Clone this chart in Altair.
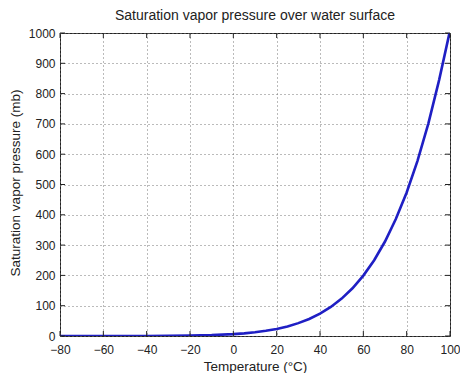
import altair as alt
import pandas as pd

temps = [-80, -70, -60, -50, -40, -30, -20, -10, 0, 5, 10, 15, 20, 25, 30, 35,
         40, 45, 50, 55, 60, 65, 70, 75, 80, 85, 90, 95, 100]
pressures = [0.0005, 0.003, 0.02, 0.06, 0.19, 0.51, 1.25, 2.86, 6.11, 8.72, 12.28,
             17.04, 23.37, 31.67, 42.43, 56.24, 73.77, 95.85, 123.4, 157.6, 199.3,
             250.1, 311.8, 385.9, 473.6, 578.0, 701.1, 845.3, 1008]
x_ticks = [-80, -60, -40, -20, 0, 20, 40, 60, 80, 100]
y_ticks = [0, 100, 200, 300, 400, 500, 600, 700, 800, 900, 1000]

W, H = 390, 303
FONT = "Liberation Sans"

df = pd.DataFrame({"T": temps, "e": pressures})
xt = pd.DataFrame({"xt": x_ticks})
yt = pd.DataFrame({"yt": y_ticks})

xscale = alt.Scale(domain=[-80, 100], nice=False, zero=False)
yscale = alt.Scale(domain=[0, 1000], nice=False)

xaxis = alt.Axis(values=x_ticks, title="Temperature (°C)", grid=True,
                 ticks=False, domain=False, labelPadding=8, format="d",
                 labelOverlap=False, labelFlush=False,
                 titleX=W / 2, titleY=30, titleBaseline="middle",
                 titleAnchor="middle")
yaxis = alt.Axis(values=y_ticks, title="Saturation vapor pressure (mb)",
                 grid=True, ticks=False, domain=False, labelPadding=5,
                 format="d", labelOverlap=False, labelFlush=False,
                 titleX=-45, titleY=H / 2 - 2, titleAngle=-90,
                 titleBaseline="middle", titleAnchor="middle")

line = alt.Chart(df).mark_line(color="#1f1fc4", strokeWidth=2.6, clip=True).encode(
    x=alt.X("T:Q", scale=xscale, axis=xaxis),
    y=alt.Y("e:Q", scale=yscale, axis=yaxis),
)

tk = dict(color="#222222", strokeWidth=1)
bx = alt.Chart(xt).mark_rule(**tk).encode(
    x=alt.X("xt:Q", scale=xscale, axis=xaxis), y=alt.value(H), y2=alt.value(H - 5))
tx = alt.Chart(xt).mark_rule(**tk).encode(
    x=alt.X("xt:Q", scale=xscale, axis=xaxis), y=alt.value(0), y2=alt.value(5))
ly = alt.Chart(yt).mark_rule(**tk).encode(
    y=alt.Y("yt:Q", scale=yscale, axis=yaxis), x=alt.value(0), x2=alt.value(5))
ry = alt.Chart(yt).mark_rule(**tk).encode(
    y=alt.Y("yt:Q", scale=yscale, axis=yaxis), x=alt.value(W - 5), x2=alt.value(W))

chart = alt.layer(line, bx, tx, ly, ry).properties(
    width=W, height=H,
    title=alt.Title("Saturation vapor pressure over water surface",
                    fontSize=14, font=FONT, fontWeight="normal",
                    color="#222222", offset=4),
    autosize=alt.AutoSizeParams(type="none"),
    padding={"left": 52, "top": 25, "right": 10, "bottom": 37},
    background="white",
).configure_view(stroke="#222222", strokeWidth=1).configure_axis(
    labelFont=FONT, titleFont=FONT, labelFontSize=12, titleFontSize=13.5,
    labelColor="#222222", titleColor="#222222", titleFontWeight="normal",
    gridColor="#777777", gridDash=[1, 3], gridOpacity=1, gridWidth=1,
)

chart.save("out.html", embed_options={"renderer": "svg", "actions": False})
